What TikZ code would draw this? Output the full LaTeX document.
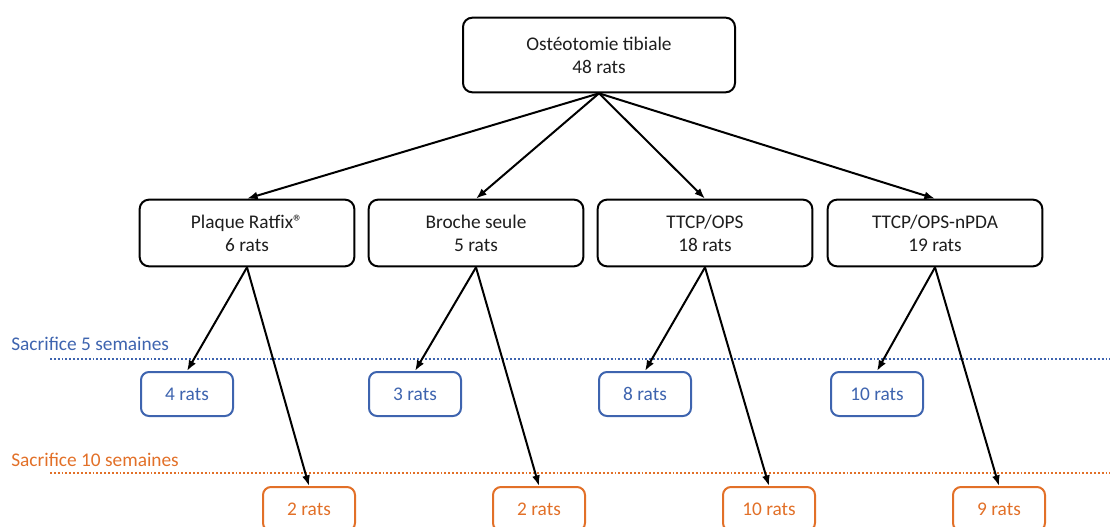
\documentclass[tikz,border=0pt]{standalone}
\usepackage{fontspec}
\setmainfont{Carlito}
\usetikzlibrary{arrows.meta}
\definecolor{sblue}{RGB}{62,100,175}
\definecolor{sorange}{RGB}{226,112,40}
\definecolor{dtext}{RGB}{30,30,30}
\begin{document}
\begin{tikzpicture}[x=0.75pt,y=-0.75pt,
  txt/.style={font=\fontsize{14.5}{17.25}\selectfont},
  topbox/.style={txt,text=dtext,draw=black,line width=1.5pt,rounded corners=7pt,minimum width=204pt,minimum height=56pt,align=center,fill=white},
  grpbox/.style={txt,text=dtext,draw=black,line width=1.5pt,rounded corners=7pt,minimum width=161pt,minimum height=50pt,align=center,fill=white},
  bluebox/.style={txt,draw=sblue,text=sblue,line width=1.5pt,rounded corners=6pt,minimum width=69pt,minimum height=33pt,align=center,fill=white},
  orangebox/.style={txt,draw=sorange,text=sorange,line width=1.5pt,rounded corners=6pt,minimum width=69pt,minimum height=33pt,align=center,fill=white},
  arr/.style={line width=1.5pt,-{Latex[length=8pt,width=6pt]}},
  sepline/.style={line width=1.9pt,dash pattern=on 1.4pt off 1.5pt},
  lbl/.style={txt,inner sep=0pt,anchor=west}]
\useasboundingbox (0,0) rectangle (1110,527);
% separator lines
\coordinate (bl) at (50,359);
\coordinate (br) at (1110,359);
\coordinate (ol) at (50,473);
\coordinate (or) at (1110,473);
\draw[sepline,sblue] (bl) -- (br);
\draw[sepline,sorange] (ol) -- (or);
\node[lbl,text=sblue] (l5) at (11,344) {Sacrifice 5 semaines};
\node[lbl,text=sorange] (l10) at (11,460) {Sacrifice 10 semaines};
% nodes
\node[topbox] (top) at (599,55) {Ostéotomie tibiale\\48 rats};
\node[grpbox] (g1) at (247,233) {Plaque Ratfix®\\6 rats};
\node[grpbox] (g2) at (476,233) {Broche seule\\5 rats};
\node[grpbox] (g3) at (705,233) {TTCP/OPS\\18 rats};
\node[grpbox] (g4) at (935,233) {TTCP/OPS-nPDA\\19 rats};
\node[bluebox] (b1) at (187,394) {4 rats};
\node[bluebox] (b2) at (415,394) {3 rats};
\node[bluebox] (b3) at (645,394) {8 rats};
\node[bluebox] (b4) at (877,394) {10 rats};
\node[orangebox] (o1) at (309,509) {2 rats};
\node[orangebox] (o2) at (539,509) {2 rats};
\node[orangebox] (o3) at (769,509) {10 rats};
\node[orangebox] (o4) at (999,509) {9 rats};
% arrows
\foreach \g in {g1,g2,g3,g4} \draw[arr] (top.south) -- (\g.north);
\draw[arr] (g1.south) -- (b1.north);
\draw[arr] (g1.south) -- (o1.north);
\draw[arr] (g2.south) -- (b2.north);
\draw[arr] (g2.south) -- (o2.north);
\draw[arr] (g3.south) -- (b3.north);
\draw[arr] (g3.south) -- (o3.north);
\draw[arr] (g4.south) -- (b4.north);
\draw[arr] (g4.south) -- (o4.north);
\end{tikzpicture}
\end{document}
